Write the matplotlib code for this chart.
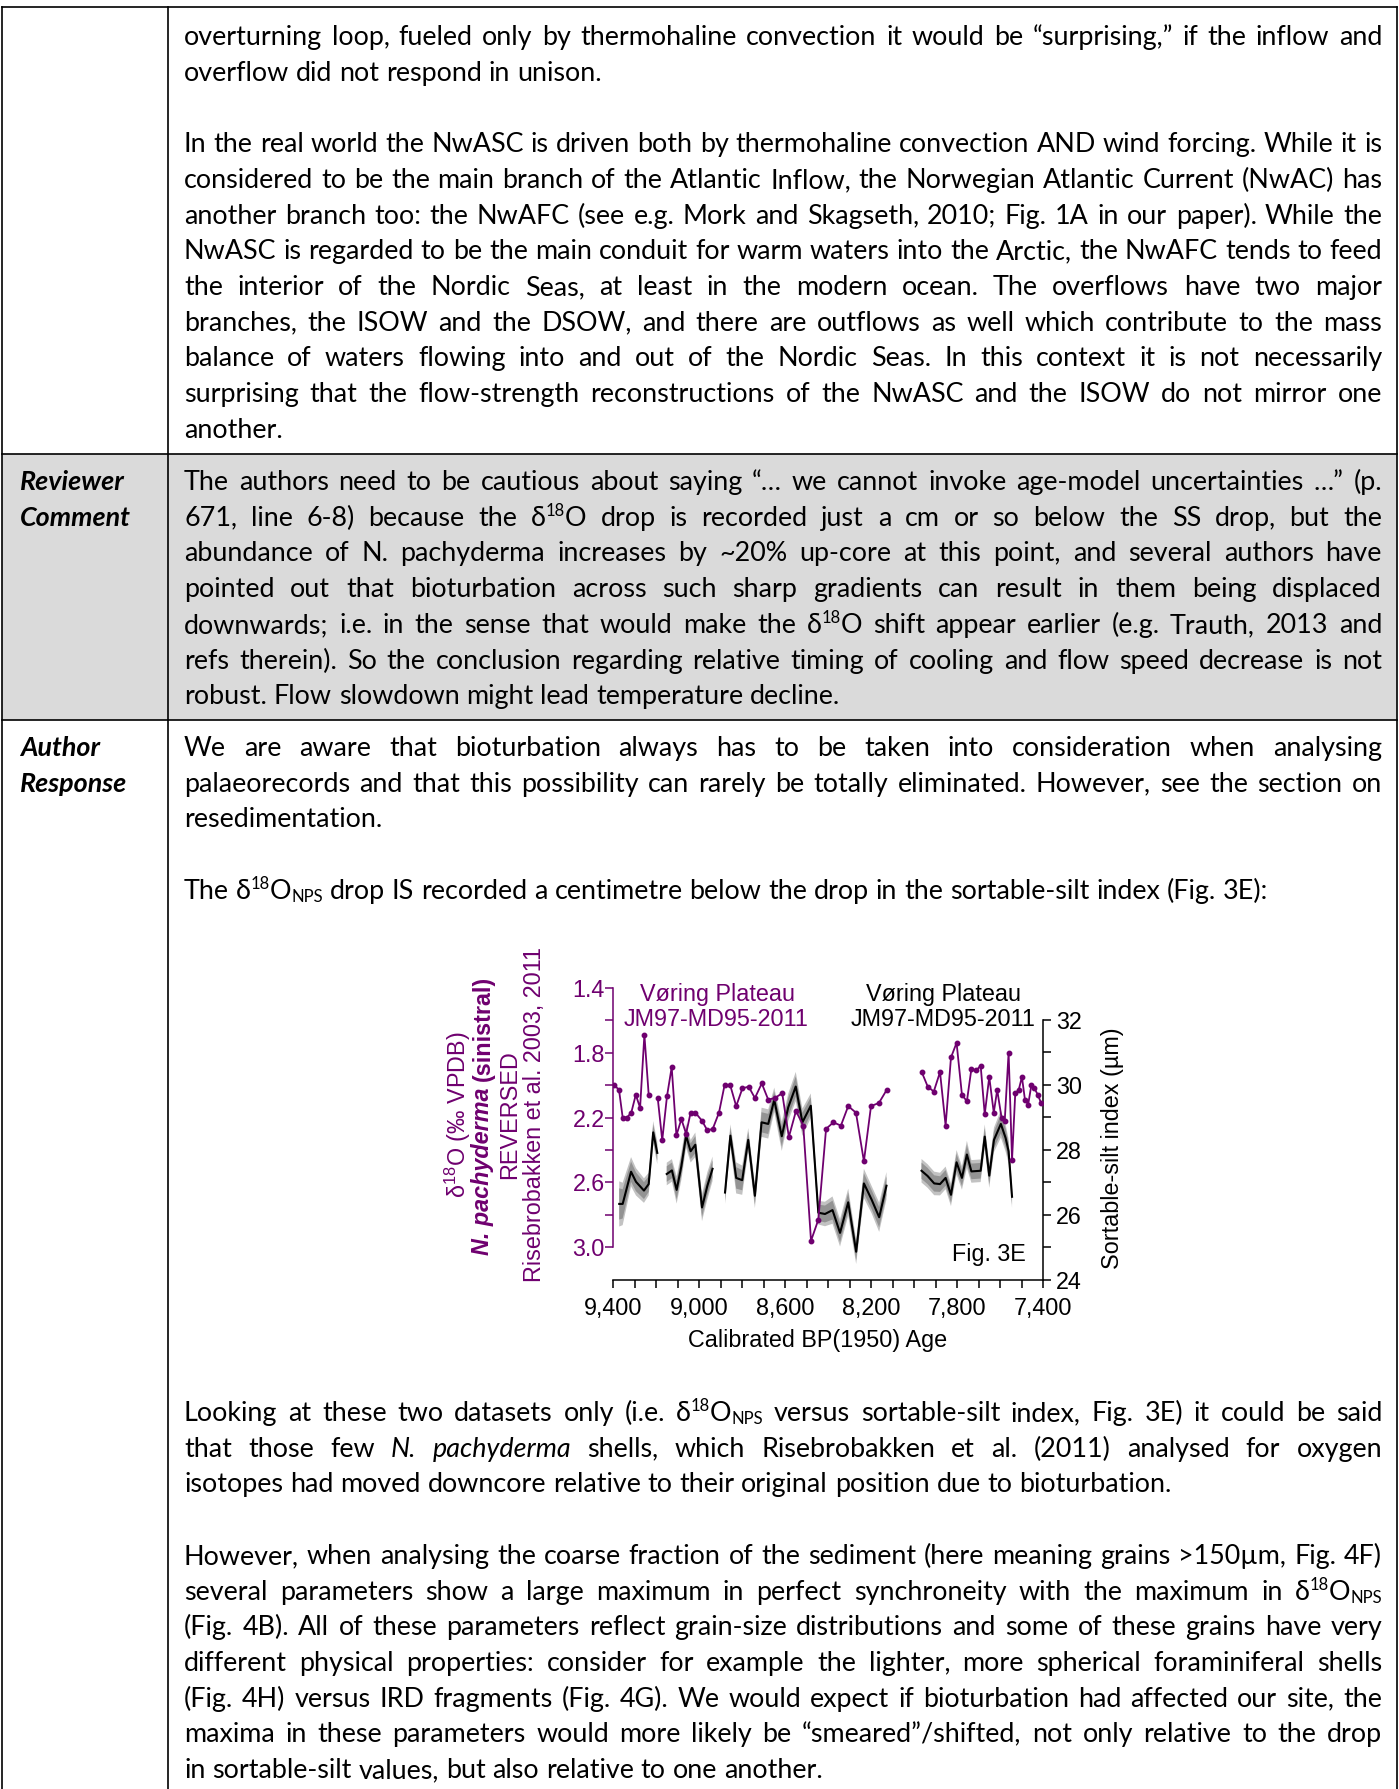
import re
import numpy as np
import matplotlib
matplotlib.use("Agg")
import matplotlib.pyplot as plt
from matplotlib.font_manager import FontProperties
from matplotlib.ticker import FixedLocator, FuncFormatter

plt.rcParams["mathtext.fontset"] = "custom"
plt.rcParams["mathtext.rm"] = "Liberation Sans"
plt.rcParams["mathtext.it"] = "Liberation Sans:italic"
plt.rcParams["mathtext.bf"] = "Liberation Sans:bold"
plt.rcParams["mathtext.default"] = "regular"

# --- Fig. 3E data ---
# d18O of N. pachyderma (sinistral), left axis (reversed); nan = gap
age_d18o = [9394, 9372, 9355, 9335, 9315, 9294, 9274, 9254, 9234, np.nan,
            9192, 9171, 9149, 9127, 9105, 9082, 9060, 9039, 9017, 8986,
            8961, 8936, 8907, 8881, 8855, 8827, 8798, 8769, 8740, 8708,
            8678, 8647, 8613, 8582, 8549, 8515, 8479, 8445, 8409, 8375,
            8340, 8306, 8270, 8233, 8200, 8163, 8127, np.nan,
            7964, 7936, 7908, 7879, 7853, 7828, 7802, 7777, 7754, 7733,
            7710, 7690, 7671, 7650, 7629, 7613, 7593, 7578, 7560, 7544,
            7529, 7513, 7498, 7484, 7469, 7454, 7440, 7424, 7409]
d18o_nps = [2.00, 2.03, 2.20, 2.20, 2.17, 2.06, 2.14, 1.69, 2.06, np.nan,
            2.08, 2.34, 2.07, 1.89, 2.31, 2.21, 2.30, 2.17, 2.17, 2.22,
            2.28, 2.27, 2.17, 2.00, 2.00, 2.13, 2.02, 2.01, 2.08, 1.99,
            2.09, 2.08, 2.05, 2.32, 2.16, 2.25, 2.96, 2.83, 2.27, 2.23,
            2.25, 2.13, 2.17, 2.47, 2.13, 2.11, 2.03, np.nan,
            1.92, 2.01, 2.04, 1.92, 2.25, 1.83, 1.74, 2.06, 2.10, 1.90,
            1.91, 1.88, 2.18, 1.95, 2.17, 2.03, 2.20, 2.22, 1.80, 2.46,
            2.05, 2.03, 1.95, 2.09, 2.12, 2.00, 2.02, 2.06, 2.11]

# sortable-silt index (um), right axis, with its uncertainty band
age_ss = [9371, 9355, 9316, 9293, 9256, 9234, 9213, 9194, np.nan,
          9150, 9126, 9104, 9082, 9060, 9039, 9017, 8986, 8961, 8937, np.nan,
          8879, 8854, 8827, 8799, 8771, 8740, 8709, 8678, 8650, 8615,
          8585, 8550, 8519, 8480, 8445, 8414, 8379, 8344, 8306, 8269,
          8233, 8197, 8162, 8128, np.nan,
          7965, 7937, 7906, 7879, 7853, 7828, 7802, 7777, 7754, 7733,
          7711, 7690, 7671, 7650, 7628, 7596, 7574, 7560, 7544]
sortable_silt = [26.34, 26.34, 27.33, 27.02, 26.75, 26.95, 28.54, 27.91, np.nan,
                 27.26, 27.37, 26.77, 27.50, 28.44, 27.96, 28.16, 26.23, 26.90, 27.42, np.nan,
                 26.69, 28.44, 27.14, 27.07, 28.31, 26.59, 28.85, 28.80, 29.54, 28.42,
                 29.31, 29.95, 28.85, 29.36, 26.07, 26.03, 26.15, 25.45, 26.39, 24.87,
                 26.97, 26.47, 25.93, 26.90, np.nan,
                 27.36, 27.20, 26.97, 26.95, 27.14, 26.62, 27.62, 27.14, 27.86, 27.34,
                 27.35, 27.36, 28.41, 27.21, 28.31, 28.80, 28.37, 27.96, 26.56]
ss_err = [0.48, 0.45, 0.31, 0.29, 0.26, 0.24, 0.24, 0.24, np.nan,
          0.24, 0.24, 0.29, 0.29, 0.26, 0.24, 0.26, 0.29, 0.29, 0.26, np.nan,
          0.24, 0.24, 0.33, 0.31, 0.25, 0.26, 0.31, 0.31, 0.26, 0.31,
          0.29, 0.31, 0.29, 0.26, 0.25, 0.26, 0.29, 0.29, 0.29, 0.26,
          0.31, 0.29, 0.31, 0.29, np.nan,
          0.25, 0.25, 0.25, 0.24, 0.24, 0.24, 0.26, 0.25, 0.29, 0.24,
          0.24, 0.24, 0.26, 0.26, 0.26, 0.29, 0.29, 0.26, 0.24]

x_ticks = [9400, 9000, 8600, 8200, 7800, 7400]
d18o_ticks = [1.4, 1.8, 2.2, 2.6, 3.0]
ss_ticks = [24, 26, 28, 30, 32]

# --- page text; (line, justified); None = empty line ---
row1_text = [
    ("overturning loop, fueled only by thermohaline convection it would be “surprising,” if the inflow and", True),
    ("overflow did not respond in unison.", False),
    None,
    ("In the real world the NwASC is driven both by thermohaline convection AND wind forcing. While it is", True),
    ("considered to be the main branch of the Atlantic Inflow, the Norwegian Atlantic Current (NwAC) has", True),
    ("another branch too: the NwAFC (see e.g. Mork and Skagseth, 2010; Fig. 1A in our paper). While the", True),
    ("NwASC is regarded to be the main conduit for warm waters into the Arctic, the NwAFC tends to feed", True),
    ("the interior of the Nordic Seas, at least in the modern ocean. The overflows have two major", True),
    ("branches, the ISOW and the DSOW, and there are outflows as well which contribute to the mass", True),
    ("balance of waters flowing into and out of the Nordic Seas. In this context it is not necessarily", True),
    ("surprising that the flow-strength reconstructions of the NwASC and the ISOW do not mirror one", True),
    ("another.", False),
]
row2_text = [
    ("The authors need to be cautious about saying “… we cannot invoke age-model uncertainties …” (p.", True),
    ("671, line 6-8) because the δ^18^O drop is recorded just a cm or so below the SS drop, but the", True),
    ("abundance of N. pachyderma increases by ~20% up-core at this point, and several authors have", True),
    ("pointed out that bioturbation across such sharp gradients can result in them being displaced", True),
    ("downwards; i.e. in the sense that would make the δ^18^O shift appear earlier (e.g. Trauth, 2013 and", True),
    ("refs therein). So the conclusion regarding relative timing of cooling and flow speed decrease is not", True),
    ("robust. Flow slowdown might lead temperature decline.", False),
]
row3_top = [
    ("We are aware that bioturbation always has to be taken into consideration when analysing", True),
    ("palaeorecords and that this possibility can rarely be totally eliminated. However, see the section on", True),
    ("resedimentation.", False),
    None,
    ("The δ^18^O_NPS_ drop IS recorded a centimetre below the drop in the sortable-silt index (Fig. 3E):", False),
]
row3_bottom = [
    ("Looking at these two datasets only (i.e. δ^18^O_NPS_ versus sortable-silt index, Fig. 3E) it could be said", True),
    ("that those few *N.* *pachyderma* shells, which Risebrobakken et al. (2011) analysed for oxygen", True),
    ("isotopes had moved downcore relative to their original position due to bioturbation.", False),
    None,
    ("However, when analysing the coarse fraction of the sediment (here meaning grains >150µm, Fig. 4F)", True),
    ("several parameters show a large maximum in perfect synchroneity with the maximum in δ^18^O_NPS_", True),
    ("(Fig. 4B). All of these parameters reflect grain-size distributions and some of these grains have very", True),
    ("different physical properties: consider for example the lighter, more spherical foraminiferal shells", True),
    ("(Fig. 4H) versus IRD fragments (Fig. 4G). We would expect if bioturbation had affected our site, the", True),
    ("maxima in these parameters would more likely be “smeared”/shifted, not only relative to the drop", True),
    ("in sortable-silt values, but also relative to one another.", False),
]

W, H = 1399, 1789
fig = plt.figure(figsize=(W / 100, H / 100), dpi=100)
renderer = fig.canvas.get_renderer()

BODY = ["Lato", "DejaVu Sans"]
CHART = "Liberation Sans"
PURPLE = "#6f006f"
GREY_ROW = "#dadada"
TEXT_X0, TEXT_X1 = 184, 1382
LINE_STEP = 35.7


def fx(x):
    return x / W


def fy(y):
    return 1 - y / H


def measure(s, prop):
    return renderer.get_text_width_height_descent(s, prop, ismath=False)[0]


def body_prop(kind, size, bold=False, italic=False):
    if kind in ("sup", "sub"):
        size = size * 0.62
    style = "italic" if (kind == "it" or italic) else "normal"
    return FontProperties(family=BODY, size=size, style=style,
                          weight="bold" if bold else "normal")


def parse(word):
    parts = []
    for m in re.finditer(r"\^([^^]+)\^|_([^_]+)_|\*([^*]+)\*|([^^_*]+)", word):
        if m.group(1):
            parts.append((m.group(1), "sup"))
        elif m.group(2):
            parts.append((m.group(2), "sub"))
        elif m.group(3):
            parts.append((m.group(3), "it"))
        else:
            parts.append((m.group(4), "n"))
    return parts


def natural_width(line, size):
    words = [parse(w) for w in line.split(" ")]
    p = body_prop("n", size)
    space = measure("n n", p) - measure("nn", p)
    total = sum(measure(t, body_prop(k, size)) for w in words for t, k in w)
    return total + space * (len(words) - 1)


# body size: the widest justified line just fills the column with plain spaces
all_lines = [it for block in (row1_text, row2_text, row3_top, row3_bottom)
             for it in block if it is not None]
widest = max(natural_width(l, 15) for l, j in all_lines if j)
FS = 15 * (TEXT_X1 - TEXT_X0) / widest
EM = FS * 100 / 72
SPACE = measure("n n", body_prop("n", FS)) - measure("nn", body_prop("n", FS))


def draw_line(line, y, justify):
    words = [parse(w) for w in line.split(" ")]
    widths = [sum(measure(t, body_prop(k, FS)) for t, k in w) for w in words]
    gap = SPACE
    if justify and len(words) > 1:
        gap = (TEXT_X1 - TEXT_X0 - sum(widths)) / (len(words) - 1)
    base = y + 0.3 * EM
    x = TEXT_X0
    for w, ww in zip(words, widths):
        xx = x
        for t, k in w:
            p = body_prop(k, FS)
            dy = -0.36 * EM if k == "sup" else (0.12 * EM if k == "sub" else 0)
            fig.text(fx(xx), fy(base + dy), t, fontproperties=p, ha="left", va="baseline")
            xx += measure(t, p)
        x += ww + gap


def draw_block(lines, y0):
    for i, item in enumerate(lines):
        if item is not None:
            draw_line(item[0], y0 + i * LINE_STEP, item[1])


# table
fig.add_artist(plt.Rectangle((fx(2), fy(720)), fx(1397) - fx(2), fy(454) - fy(720),
                             transform=fig.transFigure, facecolor=GREY_ROW,
                             edgecolor="none", zorder=0))
for y in [7, 454, 720]:
    fig.add_artist(plt.Line2D([fx(2), fx(1397)], [fy(y), fy(y)],
                              transform=fig.transFigure, color="black", lw=1.2))
for x in [2, 168, 1397]:
    fig.add_artist(plt.Line2D([fx(x), fx(x)], [fy(7), fy(1789)],
                              transform=fig.transFigure, color="black", lw=1.2))

label_prop = body_prop("n", FS, bold=True, italic=True)
for txt, y in [("Reviewer", 482), ("Comment", 517.7), ("Author", 748), ("Response", 783.7)]:
    fig.text(fx(20), fy(y + 0.3 * EM), txt, fontproperties=label_prop,
             ha="left", va="baseline")

draw_block(row1_text, 37)
draw_block(row2_text, 482)
draw_block(row3_top, 748)
draw_block(row3_bottom, 1413)

# --- Fig. 3E ---
ax = fig.add_axes([fx(613), fy(1280), fx(1043) - fx(613), fy(987.7) - fy(1280)])
ax2 = ax.twinx()
ax.set_zorder(3)
ax.patch.set_visible(False)

ss = np.array(sortable_silt)
err = np.array(ss_err)
ax2.fill_between(age_ss, ss - 1.45 * err, ss + 1.45 * err, color="#c2c2c2", lw=0)
ax2.fill_between(age_ss, ss - err, ss + err, color="#939393", lw=0)
ax2.plot(age_ss, sortable_silt, color="black", lw=1.5)

ax.plot(age_d18o, d18o_nps, color=PURPLE, lw=1.3, marker="o", ms=3.2)

ax.set_xlim(9400, 7400)
ax.set_ylim(3.2015, 1.4)
ax2.set_ylim(24, 32.99)

tick_kw = dict(direction="out", length=5.5, width=1.1, labelsize=16.8)
ax.xaxis.set_major_locator(FixedLocator(x_ticks))
ax.xaxis.set_minor_locator(FixedLocator(np.arange(9400, 7399, -100)))
ax.xaxis.set_major_formatter(FuncFormatter(lambda v, p: f"{int(v):,}"))
ax.tick_params(axis="x", which="both", pad=7, **tick_kw)
ax.tick_params(axis="x", which="minor", labelbottom=False)

ax.yaxis.set_major_locator(FixedLocator(d18o_ticks))
ax.yaxis.set_minor_locator(FixedLocator([1.6, 2.0, 2.4, 2.8]))
ax.yaxis.set_major_formatter(FuncFormatter(lambda v, p: f"{v:.1f}"))
ax.tick_params(axis="y", which="both", color=PURPLE, labelcolor=PURPLE, pad=0.5, **tick_kw)

ax2.yaxis.set_major_locator(FixedLocator(ss_ticks))
ax2.yaxis.set_minor_locator(FixedLocator([25, 27, 29, 31]))
ax2.tick_params(axis="y", which="both", pad=4, **tick_kw)

for a in (ax, ax2):
    for lab in a.get_xticklabels() + a.get_yticklabels():
        lab.set_fontfamily(CHART)
    a.spines["top"].set_visible(False)
ax.spines["right"].set_visible(False)
ax.spines["left"].set_bounds(1.4, 3.0)
ax.spines["left"].set_color(PURPLE)
ax.spines["left"].set_linewidth(1.1)
ax.spines["bottom"].set_linewidth(1.1)
ax2.spines["left"].set_visible(False)
ax2.spines["bottom"].set_visible(False)
ax2.spines["right"].set_bounds(24, 32)
ax2.spines["right"].set_linewidth(1.1)

cfont = dict(fontfamily=CHART, fontsize=16.8)
fig.text(fx(717), fy(995), "Vøring Plateau", color=PURPLE, ha="center", va="center", **cfont)
fig.text(fx(716), fy(1020), "JM97-MD95-2011", color=PURPLE, ha="center", va="center", **cfont)
fig.text(fx(944), fy(995), "Vøring Plateau", color="black", ha="center", va="center", **cfont)
fig.text(fx(943), fy(1020), "JM97-MD95-2011", color="black", ha="center", va="center", **cfont)
fig.text(fx(1026), fy(1255), "Fig. 3E", ha="right", va="center", **cfont)
fig.text(fx(818), fy(1341), "Calibrated BP(1950) Age", ha="center", va="center", **cfont)
fig.text(fx(1113), fy(1148), "Sortable-silt index (µm)", rotation=90,
         ha="center", va="center", **cfont)

# left axis title, four rotated lines
yc = 1115
fig.text(fx(458), fy(yc), "δ$^{18}$O (‰ VPDB)", rotation=90, color=PURPLE,
         ha="center", va="center", **cfont)
bi = FontProperties(family=CHART, size=16.8, weight="bold", style="italic")
bd = FontProperties(family=CHART, size=16.8, weight="bold")
w1 = measure("N. pachyderma", bi)
w2 = measure("(sinistral)", bd)
sp = measure("n n", bd) - measure("nn", bd)
y_bottom = yc + (w1 + sp + w2) / 2
fig.text(fx(483), fy(y_bottom), "N. pachyderma", rotation=90, color=PURPLE,
         ha="center", va="bottom", fontproperties=bi)
fig.text(fx(483), fy(y_bottom - w1 - sp), "(sinistral)", rotation=90, color=PURPLE,
         ha="center", va="bottom", fontproperties=bd)
fig.text(fx(510), fy(yc), "REVERSED", rotation=90, color=PURPLE,
         ha="center", va="center", **cfont)
fig.text(fx(535), fy(yc), "Risebrobakken et al. 2003, 2011", rotation=90, color=PURPLE,
         ha="center", va="center", **cfont)

fig.savefig("out.png", dpi=100)
